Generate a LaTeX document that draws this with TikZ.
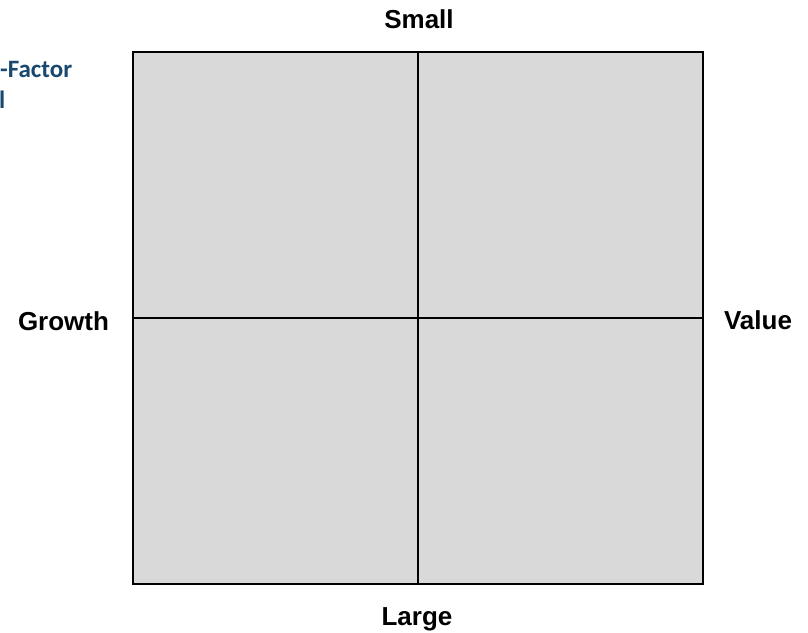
\documentclass[tikz,border=0pt]{standalone}
\usepackage{fontspec}
\setmainfont{Liberation Sans}
\newfontfamily\calib{Carlito}
\definecolor{quadfill}{RGB}{217,217,217}
\definecolor{titleblue}{RGB}{24,72,112}
\begin{document}
\begin{tikzpicture}[x=1pt,y=-1pt,
  axislabel/.style={font=\fontsize{26}{31}\selectfont\bfseries, inner sep=0pt, anchor=base},
  titletext/.style={font=\calib\fontsize{25}{30}\selectfont\bfseries, text=titleblue, inner sep=0pt, anchor=base west},
  quad/.style={fill=quadfill, draw=black, line width=2pt, minimum width=285pt, minimum height=266pt, inner sep=0pt}]
\useasboundingbox (0,0) rectangle (808,632);
% quadrants
\node[quad] (tl) at (275.5,185) {};
\node[quad] (tr) at (560.5,185) {};
\node[quad] (bl) at (275.5,451) {};
\node[quad] (br) at (560.5,451) {};
% axis labels
\node[axislabel] (small) at (419,28) {Small};
\node[axislabel] (large) at (417,625) {Large};
\node[axislabel] (growth) at (63.5,330) {Growth};
\node[axislabel] (value) at (758,329) {Value};
% cropped title
\node[titletext] (t1) at (0,77) {-Factor};
\node[titletext] (t2) at (-1,108) {l};
\end{tikzpicture}
\end{document}
